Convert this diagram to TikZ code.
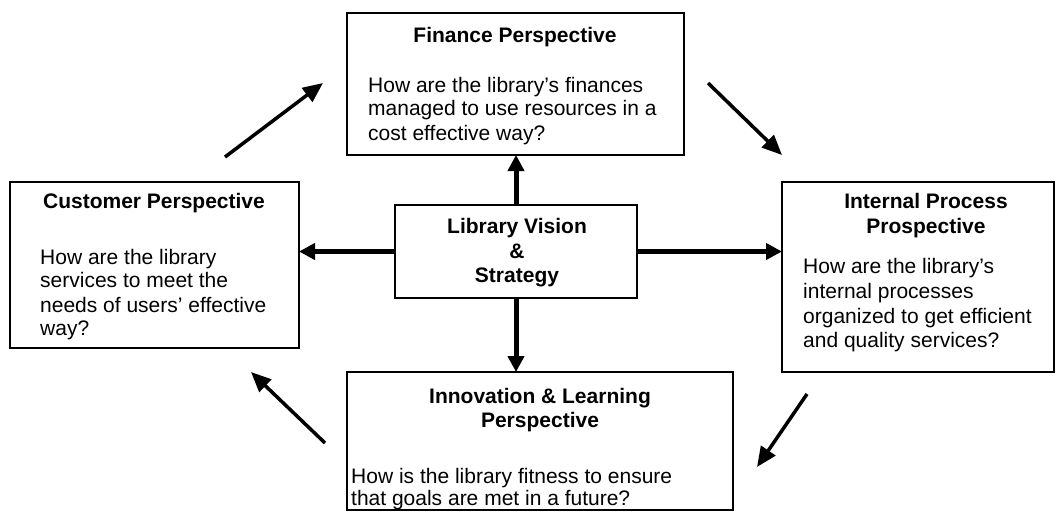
\documentclass[tikz,border=0pt]{standalone}
\usepackage{fontspec}
\setmainfont{Liberation Sans}
\usetikzlibrary{arrows.meta}
\begin{document}
\begin{tikzpicture}[x=1pt,y=-1pt,
  panel/.style={draw=black, line width=2.2pt, inner sep=0pt, outer sep=0pt, anchor=north west},
  head/.style={font=\bfseries\fontsize{21}{24}\selectfont, inner sep=0pt, anchor=base},
  body/.style={font=\fontsize{21}{24}\selectfont, inner sep=0pt, anchor=base west},
  bigarrow/.style={line width=5pt, -{Triangle[length=16pt,width=16pt]}},
  cyclearrow/.style={line width=3.5pt, -{Triangle[length=20pt,width=17pt]}}]

\useasboundingbox (0,0) rectangle (1057,512);
\fill[white] (0,0) rectangle (1057,512);

% perspective panels
\node[panel, minimum width=337pt, minimum height=142pt] (fin) at (347,13) {};
\node[panel, minimum width=289pt, minimum height=166pt] (cust) at (10,182) {};
\node[panel, minimum width=242pt, minimum height=93pt] (ctr) at (395,205) {};
\node[panel, minimum width=272pt, minimum height=190pt] (int) at (782,182) {};
\node[panel, minimum width=386pt, minimum height=138pt] (inn) at (347,372) {};

% Finance
\node[head] (finT) at (515,42) {Finance Perspective};
\node[body] (finA) at (368,92) {How are the library’s finances};
\node[body] (finB) at (368,115) {managed to use resources in a};
\node[body] (finC) at (368,140) {cost effective way?};

% Customer
\node[head] (custT) at (154,208) {Customer Perspective};
\node[body] (custA) at (40,264) {How are the library};
\node[body] (custB) at (40,287) {services to meet the};
\node[body] (custC) at (40,312) {needs of users’ effective};
\node[body] (custD) at (40,335) {way?};

% Vision and strategy
\node[head] (ctrA) at (517,233) {Library Vision};
\node[head] (ctrB) at (517,258) {\&};
\node[head] (ctrC) at (517,282) {Strategy};

% Internal process
\node[head] (intT) at (926,208) {Internal Process};
\node[head] (intU) at (926,233) {Prospective};
\node[body] (intA) at (803,273) {How are the library’s};
\node[body] (intB) at (803,298) {internal processes};
\node[body] (intC) at (803,323) {organized to get efficient};
\node[body] (intD) at (803,347) {and quality services?};

% Innovation and learning
\node[head] (innT) at (540,403) {Innovation \& Learning};
\node[head] (innU) at (540,427) {Perspective};
\node[body] (innA) at (351,483) {How is the library fitness to ensure};
\node[body] (innB) at (351,505) {that goals are met in a future?};

% arrows from the vision to each perspective
\draw[bigarrow] (ctr.north) -- (ctr.north |- fin.south);
\draw[bigarrow] (ctr.west) -- (ctr.west -| cust.east);
\draw[bigarrow] (ctr.east) -- (ctr.east -| int.west);
\draw[bigarrow] (ctr.south) -- (ctr.south |- inn.north);

% clockwise cycle arrows
\coordinate (c1s) at (225,157); \coordinate (c1e) at (323,83);
\coordinate (c2s) at (708,83);  \coordinate (c2e) at (782,155);
\coordinate (c3s) at (807,394); \coordinate (c3e) at (757,467);
\coordinate (c4s) at (325,443); \coordinate (c4e) at (251,372);
\draw[cyclearrow] (c1s) -- (c1e);
\draw[cyclearrow] (c2s) -- (c2e);
\draw[cyclearrow] (c3s) -- (c3e);
\draw[cyclearrow] (c4s) -- (c4e);
\end{tikzpicture}
\end{document}
